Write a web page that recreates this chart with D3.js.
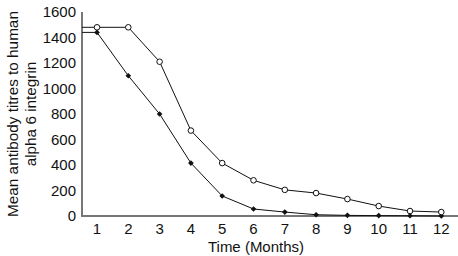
<!DOCTYPE html>
<html><head><meta charset="utf-8">
<script src="https://cdn.jsdelivr.net/npm/d3@7"></script>
<style>body{margin:0;background:#fff}text{font-family:"Liberation Sans",Arial,sans-serif}</style>
</head><body><svg id="c" width="458" height="256"></svg>
<script>
const months = [1,2,3,4,5,6,7,8,9,10,11,12];
const openSeries = [1480,1480,1210,670,415,280,205,180,133,78,39,31];
const filledSeries = [1440,1100,800,415,157,55,31,10,5,3,2,0];
const yTicks = [0,200,400,600,800,1000,1200,1400,1600];

const svg = d3.select("#c");
const x0 = 82, y0 = 216;
const xs = d3.scaleLinear().domain([1,12]).range([97, 97+31.3*11]);
const y = d3.scaleLinear().domain([0,1600]).range([y0, 12]);

// axes
svg.append("line").attr("x1",x0).attr("x2",x0).attr("y1",12).attr("y2",y0+1)
  .attr("stroke","#777").attr("stroke-width",2);
svg.append("line").attr("x1",x0-1).attr("x2",458).attr("y1",y0).attr("y2",y0)
  .attr("stroke","#777").attr("stroke-width",2);

svg.selectAll(".yt").data(yTicks).enter().append("text")
  .attr("x",76).attr("y",d=>y(d)).attr("dy","0.36em").attr("text-anchor","end")
  .attr("font-size",15).attr("fill","#111").text(d=>d);
svg.selectAll(".xt").data(months).enter().append("text")
  .attr("x",d=>xs(d)).attr("y",234).attr("text-anchor","middle")
  .attr("font-size",15).attr("fill","#111").text(d=>d);

svg.append("text").attr("x",256).attr("y",252).attr("text-anchor","middle")
  .attr("font-size",15).attr("fill","#111").text("Time (Months)");
const yl = svg.append("text").attr("transform","translate(0,114) rotate(-90)")
  .attr("text-anchor","middle").attr("font-size",15.3).attr("fill","#111");
yl.append("tspan").attr("x",0).attr("y",18).text("Mean antibody titres to human");
yl.append("tspan").attr("x",0).attr("y",36).text("alpha 6 integrin");

const line = d3.line().x(d=>d[0]).y(d=>d[1]);
function draw(vals, filled){
  const pts = [[x0, y(vals[0])]].concat(vals.map((v,i)=>[xs(months[i]), y(v)]));
  svg.append("path").attr("d", line(pts)).attr("fill","none").attr("stroke","#111").attr("stroke-width",1);
  if(filled){
    svg.selectAll(null).data(vals).enter().append("path")
      .attr("transform",(d,i)=>`translate(${xs(months[i])},${y(d)}) rotate(45)`)
      .attr("d", d3.symbol(d3.symbolSquare, 16)()).attr("fill","#111");
  } else {
    svg.selectAll(null).data(vals).enter().append("circle")
      .attr("cx",(d,i)=>xs(months[i])).attr("cy",d=>y(d)).attr("r",2.8)
      .attr("fill","#fff").attr("stroke","#111").attr("stroke-width",1);
  }
}
draw(filledSeries, true);
draw(openSeries, false);
</script></body></html>
